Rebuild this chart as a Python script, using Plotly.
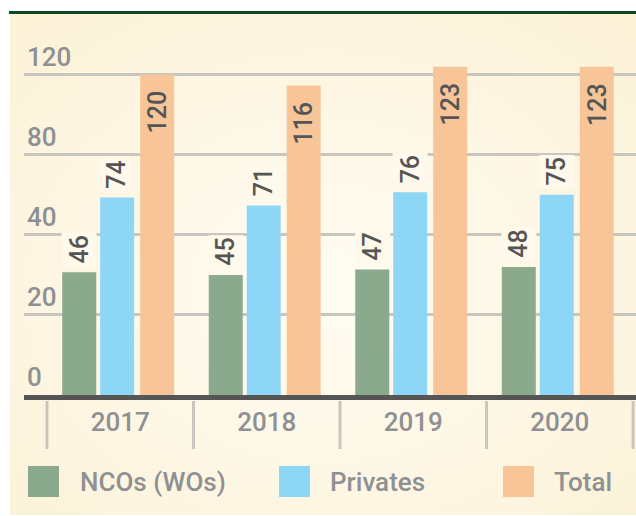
import base64
import plotly.graph_objects as go

# numeros por año (lo del grafico de barras)
years = ['2017', '2018', '2019', '2020']
ncos = [46, 45, 47, 48]
privates = [74, 71, 76, 75]
total = [120, 116, 123, 123]

series_names = ['NCOs (WOs)', 'Privates', 'Total']
colors = ['#8aa98d', '#8ed6f6', '#f7c598']

# las etiquetas del eje y vienen asi en el original (no son lineales)
y_tickvals = [0, 30, 60, 90, 120]
y_ticktext = ['0', '20', '40', '80', '120']

W, H = 636, 516
L, R, T, B = 24, 0, 40, 121
x_range = [-0.657, 3.52]
y_range = [0, 133]

# ancho y corrimiento de cada serie dentro de la categoria (en unidades de categoria)
bar_width = 0.232
bar_offsets = [-0.396, -0.137, 0.136]

gray = '#8e9093'
dark = '#555555'


def px_x(px):
    return (px - L) / (W - L - R)


def px_y(py):
    return (H - B - py) / (H - T - B)


# fondo crema con degradado, se hace con un svg porque plotly no tiene degradados
svg = f'''<svg xmlns="http://www.w3.org/2000/svg" width="{W}" height="{H}" viewBox="0 0 {W} {H}" preserveAspectRatio="none">
<defs><radialGradient id="g" cx="50%" cy="55%" r="70%">
<stop offset="0" stop-color="#fffcf3"/><stop offset="1" stop-color="#fcf2d8"/></radialGradient></defs>
<rect width="{W}" height="{H}" fill="#ffffff"/>
<rect x="10" y="14" width="{W - 10}" height="{H - 15}" fill="url(#g)"/>
<rect x="9" y="11" width="{W - 9}" height="3" fill="#0d4a24"/>
</svg>'''
src = 'data:image/svg+xml;base64,' + base64.b64encode(svg.encode()).decode()

fig = go.Figure()

for name, vals, col, off in zip(series_names, [ncos, privates, total], colors, bar_offsets):
    fig.add_trace(go.Bar(
        x=years, y=vals, name=name, showlegend=False, hoverinfo='skip',
        width=bar_width, offset=off,
        marker=dict(color=col, line=dict(width=0))
    ))

cat_px = (W - L - R) / (x_range[1] - x_range[0])

# ojo: los años parecen numeros, asi que en las anotaciones va el indice de la categoria
annotations = []
for i, vals in enumerate([ncos, privates, total]):
    shift = (bar_offsets[i] + bar_width / 2) * cat_px
    for j, v in enumerate(vals):
        if i < 2:
            annotations.append(dict(
                x=j, y=v, xref='x', yref='y', text=str(v), textangle=-90,
                showarrow=False, xshift=shift, yanchor='bottom', yshift=6,
                bgcolor='#fef9ea', height=30, borderpad=2,
                font=dict(size=25, color=dark, family='Roboto', weight=500)
            ))
        else:
            annotations.append(dict(
                x=j, y=v, xref='x', yref='y', text=str(v), textangle=-90,
                showarrow=False, xshift=shift, yanchor='top', yshift=-14,
                font=dict(size=25, color=dark, family='Roboto', weight=500)
            ))

# leyenda hecha a mano porque la de plotly tiene los cuadraditos muy chicos
legend_pos = [(28, 78), (279, 328), (503, 552)]
shapes = []
for (sx, tx), name, col in zip(legend_pos, series_names, colors):
    shapes.append(dict(
        type='rect', xref='paper', yref='paper',
        x0=px_x(sx), x1=px_x(sx + 31), y0=px_y(497), y1=px_y(466),
        fillcolor=col, line=dict(width=0)
    ))
    annotations.append(dict(
        x=px_x(tx), y=px_y(482), xref='paper', yref='paper', text=name,
        showarrow=False, xanchor='left', yanchor='middle',
        font=dict(size=26, color=gray, family='Roboto', weight=500)
    ))

# separadores verticales entre los años, debajo del eje
for k in range(len(years) + 1):
    shapes.append(dict(
        type='line', xref='x', yref='paper', x0=k - 0.5, x1=k - 0.5,
        y0=px_y(401), y1=px_y(449), line=dict(color='#c9c6bf', width=3)
    ))

fig.update_layout(
    width=W, height=H,
    margin=dict(l=L, r=R, t=T, b=B),
    paper_bgcolor='#ffffff', plot_bgcolor='rgba(0,0,0,0)',
    barmode='overlay',
    images=[dict(
        source=src, xref='paper', yref='paper', x=px_x(0), y=px_y(0),
        sizex=W / (W - L - R), sizey=H / (H - T - B),
        xanchor='left', yanchor='top', sizing='stretch', layer='below'
    )],
    shapes=shapes, annotations=annotations,
    xaxis=dict(
        type='category', range=x_range, showline=True, linecolor=dark, linewidth=5,
        showgrid=False, ticks='', tickfont=dict(size=26, color=gray, family='Roboto', weight=500),
        fixedrange=True
    ),
    yaxis=dict(
        range=y_range, tickvals=y_tickvals, ticktext=y_ticktext,
        ticklabelposition='inside top', showline=False, zeroline=False,
        gridcolor='#c9c6bf', gridwidth=3, ticks='',
        tickfont=dict(size=26, color=gray, family='Roboto', weight=500),
        fixedrange=True
    ),
    showlegend=False
)

# el body trae 8px de margen por defecto y corre todo, se lo sacamos
fig.write_html('out.html', config={'displayModeBar': False},
               post_script="document.body.style.margin='0';")
